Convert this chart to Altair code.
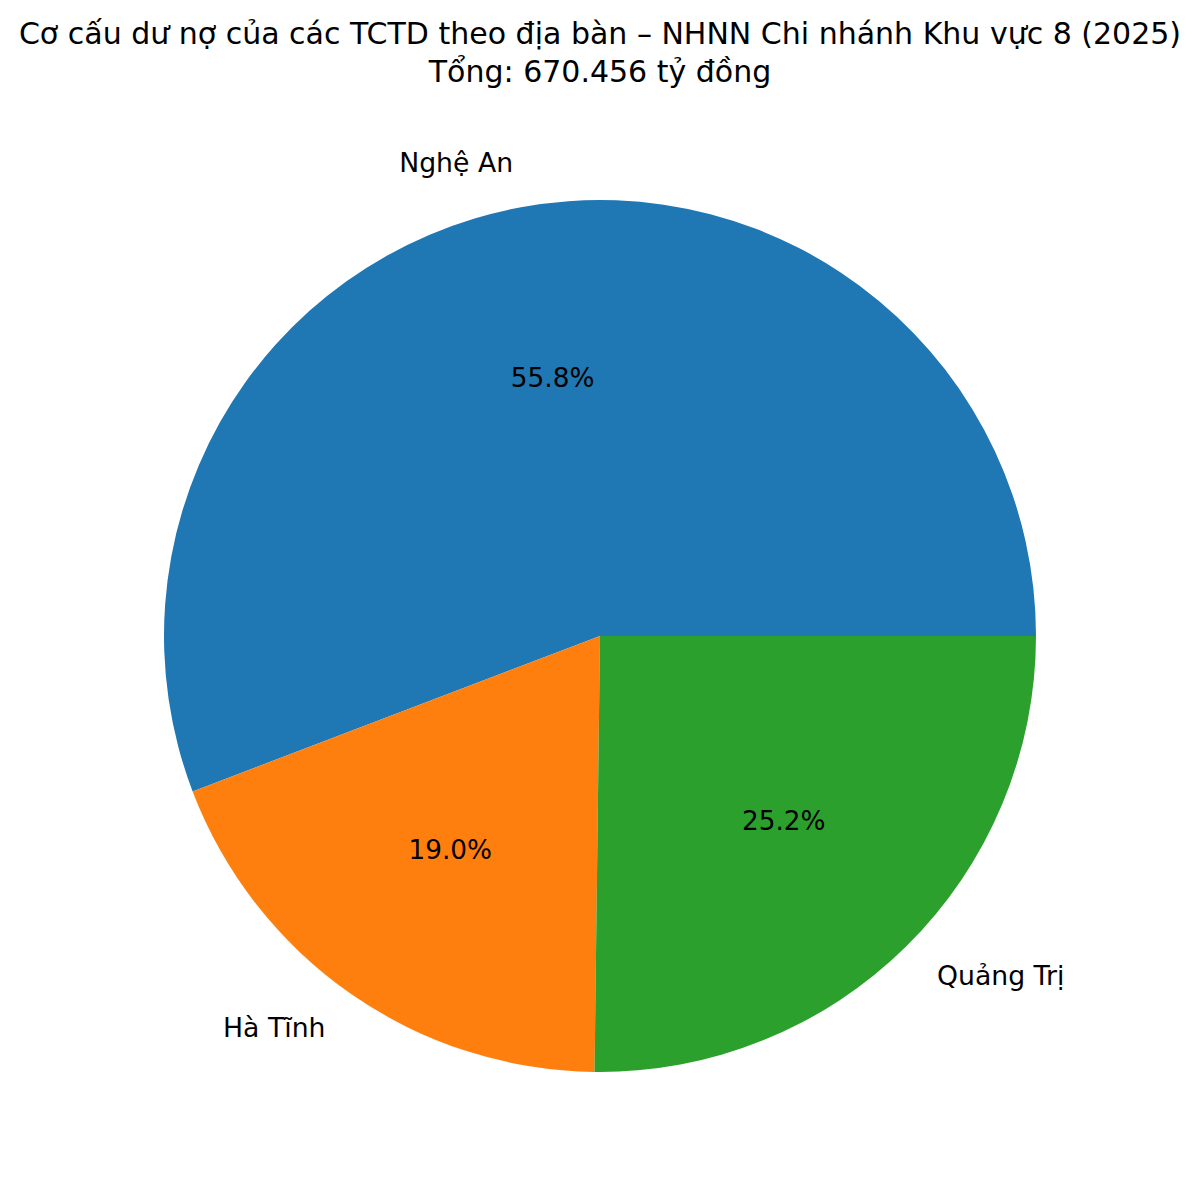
import math
import altair as alt
import pandas as pd

regions = ["Nghệ An", "Hà Tĩnh", "Quảng Trị"]
values = [374.11, 127.39, 168.95]  # tỷ đồng
percent_labels = ["55.8%", "19.0%", "25.2%"]
colors = ["#1f77b4", "#ff7f0e", "#2ca02c"]
# drawing order clockwise from 3 o'clock (matplotlib draws counterclockwise)
draw_order = [3, 2, 1]

title_text = "Cơ cấu dư nợ của các TCTD theo địa bàn – NHNN Chi nhánh Khu vực 8 (2025)"
subtitle_text = "Tổng: 670.456 tỷ đồng"

df = pd.DataFrame({
    "region": regions,
    "value": values,
    "pct": percent_labels,
    "ord": draw_order,
})

FONT = "DejaVu Sans"
CX, CY = 592, 628  # pie centre in view coords
R = 436
LABEL_SIZE = 26.7

theta_scale = alt.Scale(range=[math.pi / 2, math.pi / 2 + 2 * math.pi])

pie = alt.Chart(df).mark_arc(outerRadius=R).encode(
    theta=alt.Theta("value:Q", stack=True, scale=theta_scale),
    order=alt.Order("ord:Q"),
    color=alt.Color("region:N", scale=alt.Scale(domain=regions, range=colors), legend=None),
    x=alt.value(CX),
    y=alt.value(CY),
)

mid_base = alt.Chart(df).transform_window(
    cum="sum(value)", sort=[alt.SortField("ord", order="ascending")],
    frame=[None, 0],
).transform_calculate(mid="datum.cum - datum.value / 2")

def mid_theta():
    return alt.Theta("mid:Q", stack=False, scale=theta_scale)

pct = mid_base.mark_text(radius=R * 0.6, font=FONT, fontSize=26.3, color="black").encode(
    theta=mid_theta(), text="pct:N", x=alt.value(CX), y=alt.value(CY)
)

lab_right = mid_base.transform_filter(
    alt.FieldOneOfPredicate(field="region", oneOf=["Nghệ An", "Hà Tĩnh"])
).mark_text(radius=R * 1.1, font=FONT, fontSize=LABEL_SIZE, color="black",
            align="right", baseline="middle").encode(
    theta=mid_theta(), text="region:N", x=alt.value(CX), y=alt.value(CY)
)

lab_left = mid_base.transform_filter(
    alt.FieldOneOfPredicate(field="region", oneOf=["Quảng Trị"])
).mark_text(radius=R * 1.1, font=FONT, fontSize=LABEL_SIZE, color="black",
            align="left", baseline="middle").encode(
    theta=mid_theta(), text="region:N", x=alt.value(CX), y=alt.value(CY)
)

title_df = pd.DataFrame({"line": [title_text, subtitle_text], "k": [0, 1]})
title_l1 = alt.Chart(title_df).transform_filter("datum.k == 0").mark_text(
    font=FONT, fontSize=30, color="black", baseline="middle"
).encode(text="line:N", x=alt.value(592), y=alt.value(27))
title_l2 = alt.Chart(title_df).transform_filter("datum.k == 1").mark_text(
    font=FONT, fontSize=30, color="black", baseline="middle"
).encode(text="line:N", x=alt.value(592), y=alt.value(65))

chart = alt.layer(pie, pct, lab_right, lab_left, title_l1, title_l2).properties(
    width=1184, height=1184,
    autosize=alt.AutoSizeParams(type="none"),
    padding=0,
).configure_view(stroke=None)

chart.save("out.html", embed_options={"renderer": "svg", "actions": False})
